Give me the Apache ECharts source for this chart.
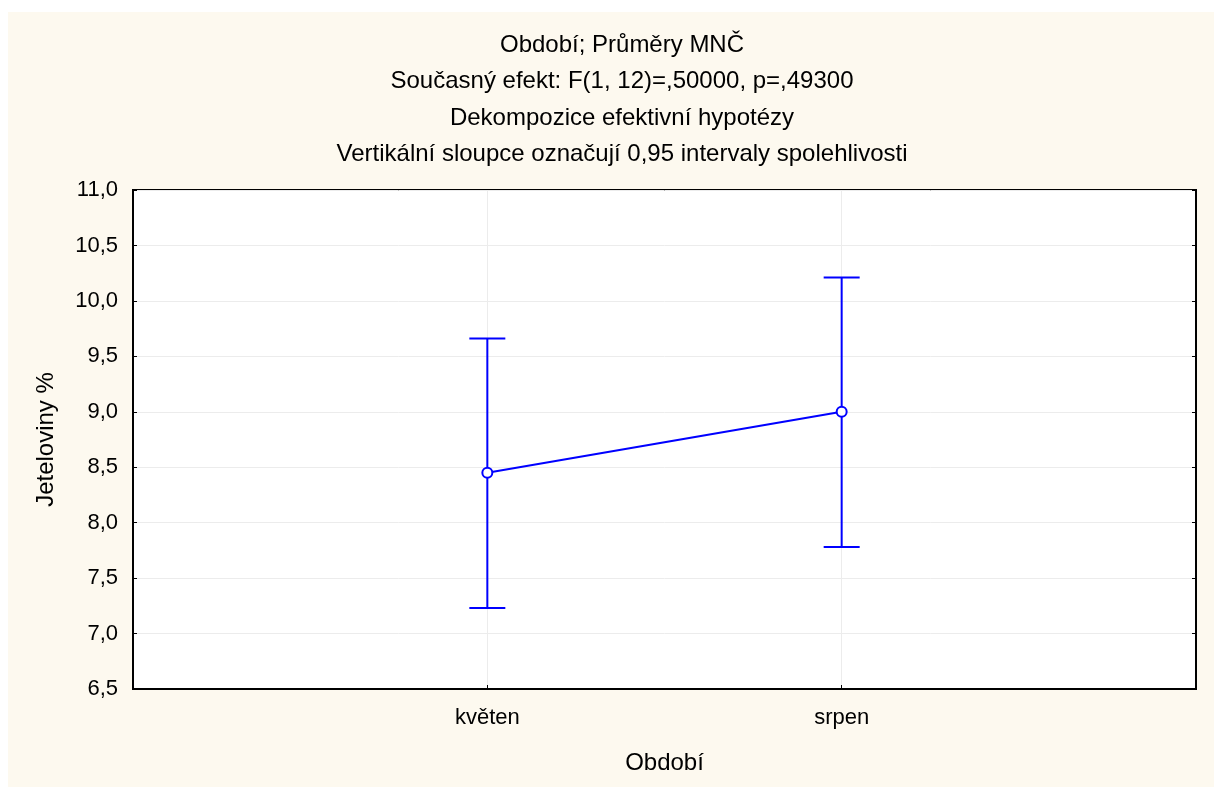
<!DOCTYPE html>
<html>
<head>
<meta charset="utf-8">
<script src="https://cdn.jsdelivr.net/npm/echarts@6/dist/echarts.min.js"></script>
<style>
html,body{margin:0;padding:0;background:#fff;}
#main{position:absolute;left:8px;top:12px;width:1206px;height:775px;background:#fdf9ef;}
</style>
</head>
<body>
<div id="main"></div>
<script>
// data
var categories = ['květen', 'srpen'];
var means = [8.45, 9.0];
var lower = [7.23, 7.78];
var upper = [9.66, 10.21];
var titleLines = [
    'Období; Průměry MNČ',
    'Současný efekt: F(1, 12)=,50000, p=,49300',
    'Dekompozice efektivní hypotézy',
    'Vertikální sloupce označují 0,95 intervaly spolehlivosti'
];

var font = '"Liberation Sans", Arial, sans-serif';
var blue = '#0000ff';

var lineData = means.map(function (m, i) { return [i + 1, m]; });
var barData = means.map(function (m, i) { return [i + 1, lower[i], upper[i]]; });

var titles = titleLines.map(function (t, i) {
    return {
        text: t, left: 609, top: 16 + i * 36.5, textAlign: 'center',
        textStyle: {fontFamily: font, fontSize: 24, fontWeight: 'normal', color: '#000'}
    };
});

var myChart = echarts.init(document.getElementById('main'));
myChart.setOption({
    animation: false,
    title: titles,
    grid: {left: 125, right: 18, top: 178, bottom: 98, show: true, backgroundColor: '#fff', borderColor: '#000', borderWidth: 2},
    xAxis: {
        type: 'value', min: 0, max: 3, interval: 1,
        name: 'Období', nameLocation: 'middle', nameGap: 62,
        nameTextStyle: {fontFamily: font, fontSize: 24, color: '#000'},
        axisLine: {show: true, lineStyle: {color: '#000', width: 2}},
        axisTick: {show: true, inside: true, length: 4, lineStyle: {color: '#000'}},
        axisLabel: {
            fontFamily: font, fontSize: 22, color: '#000', margin: 18,
            formatter: function (v) { return categories[v - 1] || ''; }
        },
        splitLine: {show: true, lineStyle: {color: '#ececec'}}
    },
    yAxis: [{
        type: 'value', min: 6.5, max: 11, interval: 0.5,
        name: 'Jeteloviny %', nameLocation: 'middle', nameGap: 75,
        nameTextStyle: {fontFamily: font, fontSize: 24, color: '#000'},
        axisLine: {show: true, lineStyle: {color: '#000', width: 2}},
        axisTick: {show: true, inside: true, length: 4, lineStyle: {color: '#000'}},
        axisLabel: {
            fontFamily: font, fontSize: 22, color: '#000', margin: 15,
            formatter: function (v) { return v.toFixed(1).replace('.', ','); }
        },
        splitLine: {show: true, lineStyle: {color: '#ececec'}}
    }, {
        type: 'value', min: 6.5, max: 11, interval: 0.5, position: 'right',
        axisLine: {show: true, lineStyle: {color: '#000', width: 2}},
        axisTick: {show: true, inside: true, length: 4, lineStyle: {color: '#000'}},
        axisLabel: {show: false},
        splitLine: {show: false}
    }],
    series: [{
        type: 'custom',
        data: barData,
        renderItem: function (params, api) {
            var top = api.coord([api.value(0), api.value(2)]);
            var bot = api.coord([api.value(0), api.value(1)]);
            var x = top[0], cap = 18;
            var st = {stroke: blue, lineWidth: 2};
            return {
                type: 'group',
                children: [
                    {type: 'line', shape: {x1: x, y1: top[1], x2: x, y2: bot[1]}, style: st},
                    {type: 'line', shape: {x1: x - cap, y1: top[1], x2: x + cap, y2: top[1]}, style: st},
                    {type: 'line', shape: {x1: x - cap, y1: bot[1], x2: x + cap, y2: bot[1]}, style: st}
                ]
            };
        },
        z: 2
    }, {
        type: 'line',
        data: lineData,
        symbol: 'emptyCircle',
        symbolSize: 10,
        lineStyle: {color: blue, width: 2},
        itemStyle: {color: blue, borderColor: blue, borderWidth: 1.5},
        z: 3
    }]
});
</script>
</body>
</html>
